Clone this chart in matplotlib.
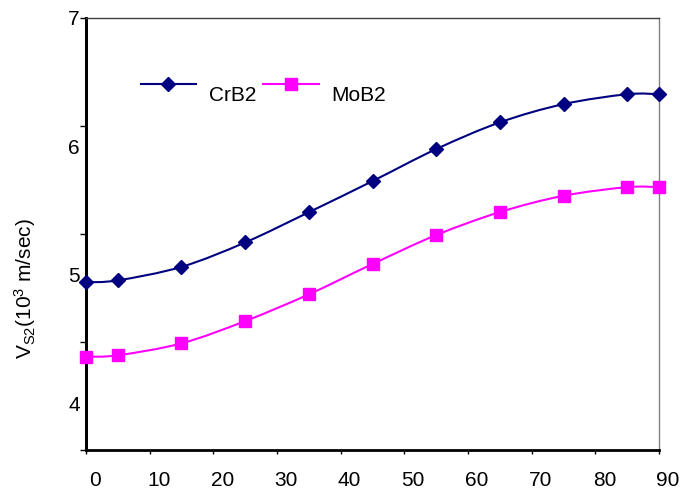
import numpy as np
import matplotlib.pyplot as plt
from matplotlib.path import Path
from matplotlib.patches import PathPatch
from matplotlib.lines import Line2D
import matplotlib.transforms as mtransforms

plt.rcParams['font.family'] = ['Liberation Sans', 'DejaVu Sans']
plt.rcParams['mathtext.fontset'] = 'custom'
plt.rcParams['mathtext.rm'] = 'Liberation Sans'
plt.rcParams['mathtext.it'] = 'Liberation Sans'

# data
angle = [0, 5, 15, 25, 35, 45, 55, 65, 75, 85, 90]
crb2 = [4.94, 4.955, 5.06, 5.25, 5.485, 5.727, 5.976, 6.184, 6.326, 6.403, 6.403]
mob2 = [4.361, 4.372, 4.465, 4.638, 4.846, 5.082, 5.307, 5.486, 5.613, 5.68, 5.68]
series = ["CrB2", "MoB2"]
colors = ["#000080", "#FF00FF"]
markers = ["D", "s"]
msizes = [7.5, 8]

ylab_ticks = [4, 5, 6, 7]
xticks = list(range(0, 91, 10))
ylo, yhi = 3.635, 7


def smooth_path(x, y):
    # excel-style smoothed line: bezier through the points
    p = np.column_stack([x, y]).astype(float)
    n = len(p)
    verts = [p[0]]
    codes = [Path.MOVETO]
    for i in range(n - 1):
        p0 = p[max(i - 1, 0)]
        p1 = p[i]
        p2 = p[i + 1]
        p3 = p[min(i + 2, n - 1)]
        c1 = p1 + (p2 - p0) / 6
        c2 = p2 - (p3 - p1) / 6
        verts += [c1, c2, p2]
        codes += [Path.CURVE4] * 3
    return Path(verts, codes)


fig = plt.figure(figsize=(6.84, 4.93), dpi=100)
ax = fig.add_axes([0.1257, 0.0872, 0.8378, 0.8773])

for vals, c, m, ms in zip([crb2, mob2], colors, markers, msizes):
    ax.add_patch(PathPatch(smooth_path(angle, vals), facecolor='none',
                           edgecolor=c, lw=1.5, zorder=2))
    ax.plot(angle, vals, ls='none', marker=m, ms=ms, color=c, zorder=3,
            clip_on=False)

ax.set_xlim(0, 90)
ax.set_ylim(ylo, yhi)
ax.set_xticks(xticks)
ax.set_yticks(ylab_ticks)
ax.tick_params(axis='y', length=0, pad=4.5, labelsize=15)
ax.tick_params(axis='x', length=3, width=1, direction='out', pad=12, labelsize=15)
offset = mtransforms.ScaledTranslation(0.09, 0, fig.dpi_scale_trans)
for lab in ax.get_xticklabels():
    lab.set_transform(lab.get_transform() + offset)

# tick marks on the left sit on their own even spacing
sec = ax.secondary_yaxis('left', functions=(
    lambda d: 3 + (d - ylo) * 4 / (yhi - ylo),
    lambda t: ylo + (t - 3) * (yhi - ylo) / 4))
sec.set_yticks([3, 4, 5, 6, 7])
sec.set_yticklabels([])
sec.tick_params(length=4.5, width=1, direction='out')
sec.spines['left'].set_linewidth(2)

ax.spines['left'].set_linewidth(2)
ax.spines['bottom'].set_linewidth(2)
ax.spines['top'].set_color('#404040')
ax.spines['top'].set_linewidth(1)
ax.spines['right'].set_color('#808080')
ax.spines['right'].set_linewidth(1)

ax.set_ylabel(r'V$_{\mathregular{S2}}$(10$^{\mathregular{3}}$ m/sec)', fontsize=15)
ax.yaxis.set_label_coords(-0.083, 0.372)

handles = [Line2D([], [], color=c, lw=1.5, marker=m, ms=ms)
           for c, m, ms in zip(colors, markers, msizes)]
leg = ax.legend(handles, series, loc='center left', bbox_to_anchor=(0.0955, 0.843),
                ncol=2, frameon=False, fontsize=15, handlelength=2.65,
                handletextpad=0.62, columnspacing=0.35, borderpad=0,
                borderaxespad=0)
for t in leg.get_texts():
    t.set_y(-10)

fig.savefig("out.png", dpi=100)
